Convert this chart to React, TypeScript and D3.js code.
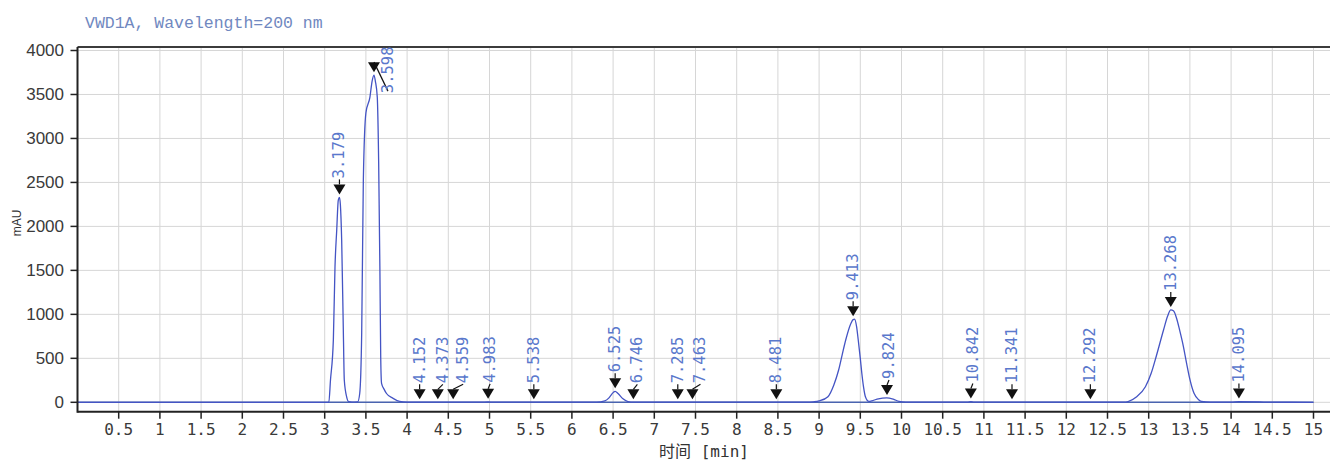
import React from 'react';
import * as d3 from 'd3';

// ---------- data ----------
const chartTitle = 'VWD1A, Wavelength=200 nm';
const xAxisTitle = '时间 [min]';
const yAxisTitle = 'mAU';

const xTickValues = [0.5, 1, 1.5, 2, 2.5, 3, 3.5, 4, 4.5, 5, 5.5, 6, 6.5, 7, 7.5, 8, 8.5, 9, 9.5, 10, 10.5, 11, 11.5, 12, 12.5, 13, 13.5, 14, 14.5, 15];
const xTickLabels = ['0.5', '1', '1.5', '2', '2.5', '3', '3.5', '4', '4.5', '5', '5.5', '6', '6.5', '7', '7.5', '8', '8.5', '9', '9.5', '10', '10.5', '11', '11.5', '12', '12.5', '13', '13.5', '14', '14.5', '15'];
const yTickValues = [0, 500, 1000, 1500, 2000, 2500, 3000, 3500, 4000];

// chromatogram trace (time in min, signal in mAU)
const traceTime = [
  0, 3.05, 3.07, 3.105, 3.125, 3.146, 3.165, 3.179, 3.19, 3.206, 3.226, 3.238, 3.267, 3.29, 3.33,
  3.40, 3.425, 3.449, 3.469, 3.50, 3.549, 3.575, 3.598, 3.615, 3.638, 3.655, 3.67, 3.68, 3.69, 3.72,
  3.75, 3.83, 3.91, 4.0, 4.1, 4.152, 4.2, 4.9, 4.983, 5.05, 6.30, 6.40, 6.45, 6.50, 6.525, 6.56,
  6.62, 6.68, 6.75, 8.85, 8.93, 9.0, 9.107, 9.18, 9.237, 9.28, 9.323, 9.387, 9.413, 9.43, 9.455,
  9.475, 9.50, 9.518, 9.54, 9.562, 9.605, 9.65, 9.72, 9.82, 9.90, 9.97, 10.05, 10.80, 10.842, 10.88,
  12.70, 12.75, 12.85, 12.96, 13.03, 13.09, 13.18, 13.23, 13.268, 13.30, 13.34, 13.375, 13.42, 13.46,
  13.50, 13.55, 13.60, 13.64, 13.75, 14.0, 14.095, 14.35, 14.45, 15.0,
];
const traceSignal = [
  0, 0, 250, 710, 1540, 1960, 2300, 2330, 2250, 1845, 820, 250, 60, 8, 3,
  5, 100, 790, 2530, 3290, 3470, 3650, 3720, 3650, 3470, 2720, 1500, 500, 215, 150,
  100, 45, 10, 3, 2, 3, 1, 1, 5, 1, 1, 15, 50, 110, 125, 100,
  40, 8, 2, 1, 5, 15, 64, 200, 367, 540, 708, 898, 940, 945, 860,
  708, 500, 333, 170, 64, 10, 20, 40, 50, 35, 10, 1, 2, 8, 2,
  1, 8, 60, 177, 330, 518, 822, 980, 1050, 1040, 950, 822, 640, 443,
  260, 102, 35, 10, 2, 3, 8, 5, 1, 0,
];

// integrated peaks
const peakTimes = [3.179, 3.598, 4.152, 4.373, 4.559, 4.983, 5.538, 6.525, 6.746, 7.285, 7.463, 8.481, 9.413, 9.824, 10.842, 11.341, 12.292, 13.268, 14.095];
const peakLabels = ['3.179', '3.598', '4.152', '4.373', '4.559', '4.983', '5.538', '6.525', '6.746', '7.285', '7.463', '8.481', '9.413', '9.824', '10.842', '11.341', '12.292', '13.268', '14.095'];
const peakHeights = [2330, 3720, 0, 0, 0, 5, 0, 125, 0, 0, 0, 0, 945, 50, 8, 0, 0, 1050, 8];

// ---------- layout ----------
const W = 1330;
const H = 462;
const left = 77.5;
const right15 = 1313.5;
const plotRight = 1330;
const yTopBorder = 47;
const yBottomAxis = 411.7;

// label nudges (dx, dy in px) for labels the software displaced
const labelNudge: Record<string, [number, number]> = {
  '3.598': [14, 37],
  '4.373': [5, 0],
  '4.559': [10, 0],
  '4.983': [2, 0],
  '6.746': [4, 0],
  '7.463': [8, 0],
  '9.824': [2, 0],
  '10.842': [2, 0],
};

export default function App() {
  const x = d3.scaleLinear().domain([0, 15]).range([left, right15]);
  const y = d3.scaleLinear().domain([0, 4000]).range([402.3, 50.5]);

  const pts: [number, number][] = traceTime.map((t, i) => [t, traceSignal[i]]);
  const line = d3
    .line<[number, number]>()
    .x((d) => x(d[0]))
    .y((d) => y(d[1]))
    .curve(d3.curveMonotoneX);

  const monoFont = '"DejaVu Sans Mono", "Noto Sans CJK SC", monospace';

  return (
    <svg
      width={W}
      height={H}
      style={{ position: 'absolute', left: 0, top: 0, background: '#ffffff' }}
    >
      {/* grid */}
      <g stroke="#d6d6d6" strokeWidth={1}>
        {xTickValues.map((v) => (
          <line key={'gx' + v} x1={x(v)} x2={x(v)} y1={yTopBorder} y2={yBottomAxis} />
        ))}
        {yTickValues.map((v) => (
          <line key={'gy' + v} x1={left} x2={plotRight} y1={y(v)} y2={y(v)} />
        ))}
      </g>

      {/* integration baseline */}
      <line x1={x(0)} x2={x(15)} y1={y(0)} y2={y(0)} stroke="#4a64b0" strokeWidth={1.6} />

      {/* trace */}
      <path d={line(pts) || ''} fill="none" stroke="#4454c4" strokeWidth={1.3} />

      {/* frame / axes */}
      <line x1={left} x2={plotRight} y1={yTopBorder} y2={yTopBorder} stroke="#3c3c3c" strokeWidth={2} />
      <line x1={left} x2={plotRight} y1={yBottomAxis} y2={yBottomAxis} stroke="#222" strokeWidth={2} />
      <line x1={left} x2={left} y1={yTopBorder} y2={yBottomAxis + 1} stroke="#222" strokeWidth={2} />

      {/* x ticks */}
      {xTickValues.map((v, i) => (
        <g key={'xt' + v}>
          <line x1={x(v)} x2={x(v)} y1={yBottomAxis} y2={yBottomAxis + 7} stroke="#222" strokeWidth={1.5} />
          <text
            x={x(v)}
            y={429}
            textAnchor="middle"
            dominantBaseline="central"
            fontFamily={monoFont}
            fontSize={16}
            fill="#3a3a3a"
          >
            {xTickLabels[i]}
          </text>
        </g>
      ))}

      {/* y ticks */}
      {yTickValues.map((v) => (
        <g key={'yt' + v}>
          <line x1={left - 7} x2={left} y1={y(v)} y2={y(v)} stroke="#222" strokeWidth={1.5} />
          <text
            x={64}
            y={y(v)}
            textAnchor="end"
            dominantBaseline="central"
            fontFamily='"Liberation Sans", Arial, sans-serif'
            fontSize={17}
            fill="#3a3a3a"
          >
            {v}
          </text>
        </g>
      ))}

      {/* axis titles */}
      <text
        x={704}
        y={451}
        textAnchor="middle"
        dominantBaseline="central"
        fontFamily={monoFont}
        fontSize={16}
        fill="#333"
      >
        {xAxisTitle}
      </text>
      <text
        transform="translate(17,223) rotate(-90)"
        textAnchor="middle"
        dominantBaseline="central"
        fontFamily='"Liberation Sans", Arial, sans-serif'
        fontSize={12}
        fill="#333"
      >
        {yAxisTitle}
      </text>

      {/* chart title */}
      <text
        x={85}
        y={23}
        dominantBaseline="central"
        fontFamily='"Liberation Mono", monospace'
        fontSize={16.5}
        fill="#7088c0"
      >
        {chartTitle}
      </text>

      {/* peak markers */}
      {peakTimes.map((t, i) => {
        const px = x(t);
        const tip = y(peakHeights[i]) - 3;
        const top = tip - 10;
        const [dx, dy] = labelNudge[peakLabels[i]] || [0, 0];
        const lx = px + dx;
        const ly = top - 6 + dy;
        return (
          <g key={'pk' + i}>
            <line x1={px} y1={top} x2={lx} y2={dy > 0 ? ly - 2 : ly + 1} stroke="#111" strokeWidth={1.2} />
            <path d={`M${px - 6},${top} L${px + 6},${top} L${px},${tip} Z`} fill="#111" />
            <text
              transform={`translate(${lx},${ly}) rotate(-90)`}
              textAnchor="start"
              dominantBaseline="central"
              fontFamily={monoFont}
              fontSize={15.5}
              fill="#5a78cc"
            >
              {peakLabels[i]}
            </text>
          </g>
        );
      })}
    </svg>
  );
}
